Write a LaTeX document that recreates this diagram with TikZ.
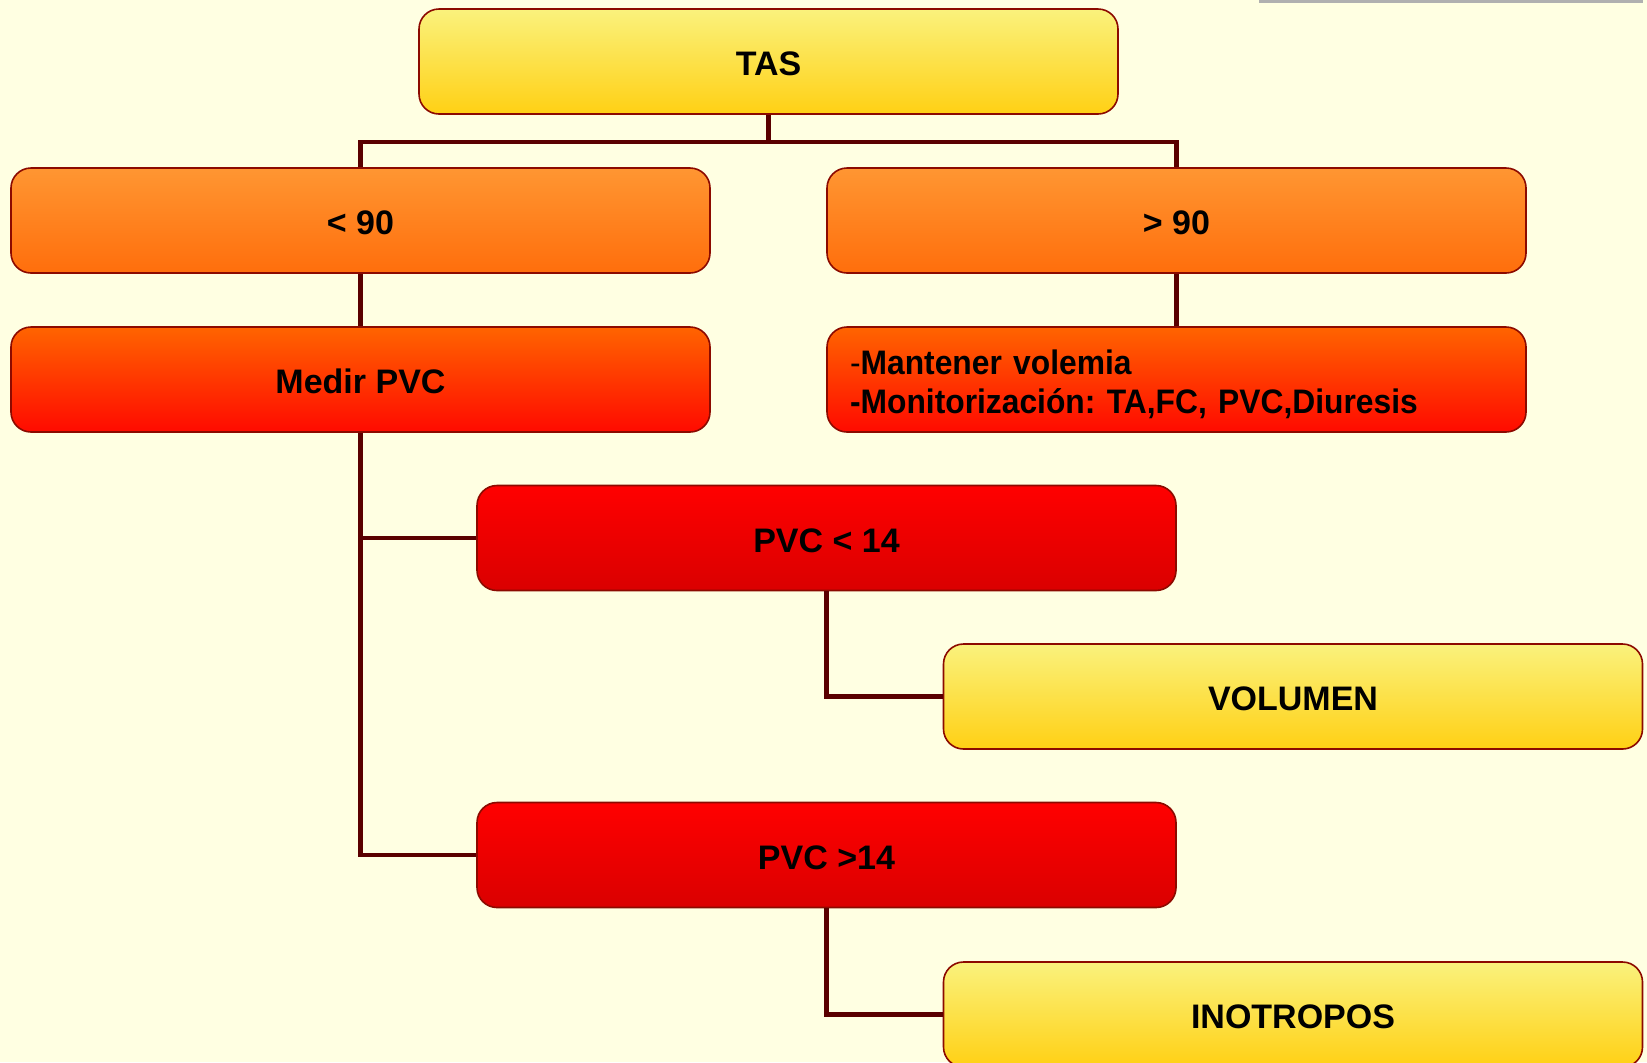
\documentclass[tikz,border=0pt]{standalone}
\usepackage{fontspec}
\setmainfont{Liberation Sans}
\newfontfamily\narrowsans[FakeStretch=0.935]{Liberation Sans}
\definecolor{bgpaper}{RGB}{255,255,226}
\definecolor{linkred}{RGB}{90,0,0}
\definecolor{edgered}{RGB}{140,10,0}
\definecolor{frameline}{RGB}{176,176,176}
\tikzset{
  box/.style={draw=edgered, line width=0.8pt, rounded corners=10pt,
    minimum width=349.5pt, minimum height=52.5pt, inner sep=0pt,
    text height=14pt, text depth=0pt,
    font=\fontsize{17}{19.5}\selectfont\bfseries},
  yellowbox/.style={box, top color={rgb,255:red,250;green,242;blue,125}, bottom color={rgb,255:red,255;green,208;blue,20}},
  orangebox/.style={box, top color={rgb,255:red,255;green,150;blue,50}, bottom color={rgb,255:red,255;green,110;blue,12}},
  hotbox/.style={box, top color={rgb,255:red,255;green,100;blue,0}, bottom color={rgb,255:red,255;green,10;blue,0}},
  redbox/.style={box, top color={rgb,255:red,255;green,0;blue,0}, bottom color={rgb,255:red,218;green,0;blue,0}},
  link/.style={draw=linkred, line width=2.2pt}
}
\begin{document}
\frenchspacing
\begin{tikzpicture}[x=0.5pt, y=-0.5pt]
% paper:
\fill[bgpaper] (0,0) rectangle (1647,1062);
\useasboundingbox (0,0) rectangle (1647,1062);
\fill[frameline] (1259,0) rectangle (1643,3);
% boxes:
\node[yellowbox] (tas) at (768.5,61.5) {TAS};
\node[orangebox] (lt90) at (360.5,220.5) {< 90};
\node[orangebox] (gt90) at (1176.5,220.5) {> 90};
\node[hotbox] (medir) at (360.5,379.5) {Medir PVC};
\node[hotbox, text width=326.5pt, inner xsep=11.5pt, align=left,
      text height=14pt, text depth=19.1pt,
      font=\fontsize{17}{19.5}\narrowsans\bfseries] (mantener) at (1176.5,379.5)
  {{\mdseries-}Mantener volemia\\-Monitorización: TA,FC, PVC,Diuresis};
\node[redbox] (pvclow) at (826.5,538) {PVC < 14};
\node[yellowbox] (volumen) at (1293,696.5) {VOLUMEN};
\node[redbox] (pvchigh) at (826.5,855) {PVC >14};
\node[yellowbox] (inotropos) at (1293,1014.5) {INOTROPOS};
% connectors:
\coordinate (split) at (768.5,142);
\draw[link] (tas.south) -- (split);
\draw[link] (split) -| (lt90.north);
\draw[link] (split) -| (gt90.north);
\draw[link] (lt90) -- (medir);
\draw[link] (gt90) -- (mantener);
\draw[link] (medir.south) |- (pvclow.west);
\draw[link] (medir.south) |- (pvchigh.west);
\draw[link] (pvclow.south) |- (volumen.west);
\draw[link] (pvchigh.south) |- (inotropos.west);
\end{tikzpicture}
\end{document}
